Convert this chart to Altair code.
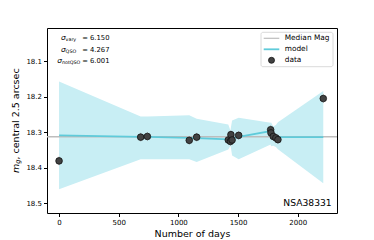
import altair as alt
import pandas as pd

# ---- data ----
days = [0, 684, 740, 1091, 1153, 1418, 1436, 1440, 1450, 1505, 1773, 1776, 1795, 1817, 1834, 2214]
mags = [18.381, 18.314, 18.312, 18.323, 18.314, 18.322, 18.326, 18.307, 18.322, 18.309,
        18.293, 18.302, 18.312, 18.316, 18.321, 18.205]
mag_err = [0.012] * len(days)

model_mag = [18.309, 18.313, 18.313, 18.316, 18.317, 18.320, 18.319, 18.317, 18.317, 18.313,
             18.297, 18.300, 18.308, 18.312, 18.314, 18.314]
band_upper = [18.157, 18.256, 18.256, 18.252, 18.262, 18.278, 18.295, 18.287, 18.267, 18.259,
              18.273, 18.272, 18.284, 18.280, 18.272, 18.184]
band_lower = [18.461, 18.376, 18.376, 18.376, 18.384, 18.349, 18.338, 18.344, 18.366, 18.376,
              18.335, 18.340, 18.338, 18.342, 18.348, 18.444]

median_mag = 18.313
x_ticks = [0, 500, 1000, 1500, 2000]
y_ticks = [18.1, 18.2, 18.3, 18.4, 18.5]
x_domain = [-101, 2329]
y_domain = [18.006, 18.528]

sigma_names = ["vary", "QSO", "notQSO"]
sigma_values = ["6.150", "4.267", "6.001"]
legend_labels = ["Median Mag", "model", "data"]
object_name = "NSA38331"

FONT = "DejaVu Sans"
BAND = "#c8eef4"
MODEL = "#5fcbda"
MEDIAN = "#bdbdbd"

df = pd.DataFrame({"day": days, "mag": mags, "err": mag_err, "model": model_mag,
                   "up": band_upper, "lo": band_lower})
df["mlo"] = df["mag"] - df["err"]
df["mhi"] = df["mag"] + df["err"]

xs = alt.Scale(domain=x_domain, nice=False, zero=False)
ys = alt.Scale(domain=y_domain, nice=False, zero=False, reverse=True)

xax = alt.Axis(values=x_ticks, title="Number of days", grid=False, labelFontSize=7,
               titleFontSize=9.5, titleFontWeight="normal", titlePadding=3,
               tickSize=3.5, labelPadding=2, format="d")
yax = alt.Axis(values=y_ticks, title=None, grid=False, labelFontSize=7, tickSize=3.5,
               labelPadding=2, format=".1f")

base = alt.Chart(df)

band = base.mark_area(color=BAND, opacity=1).encode(
    x=alt.X("day:Q", scale=xs, axis=xax),
    y=alt.Y("up:Q", scale=ys, axis=yax),
    y2="lo:Q",
)

median = alt.Chart(pd.DataFrame({"m": [median_mag]})).mark_rule(
    color=MEDIAN, strokeWidth=1.4).encode(y=alt.Y("m:Q", scale=ys))

model = base.mark_line(color=MODEL, strokeWidth=1.8).encode(
    x=alt.X("day:Q", scale=xs), y=alt.Y("model:Q", scale=ys))

errs = base.mark_rule(color="#a0a0a0", strokeWidth=0.8).encode(
    x=alt.X("day:Q", scale=xs), y=alt.Y("mlo:Q", scale=ys), y2="mhi:Q")

pts = base.mark_point(filled=True, size=44, color="#424242", stroke="#111111",
                      strokeWidth=0.8, opacity=1).encode(
    x=alt.X("day:Q", scale=xs), y=alt.Y("mag:Q", scale=ys))

layers = [band, median, model, errs, pts]

# sigma annotations
sig_rows = [10.3, 22.0, 32.7]
sig_x = [14.0, 14.0, 10.3]
for name, val, ry, sx in zip(sigma_names, sigma_values, sig_rows, sig_x):
    layers.append(alt.Chart(pd.DataFrame({"t": ["σ"]})).mark_text(
        font=FONT, fontSize=7.5, fontStyle="italic", align="left", baseline="middle").encode(
        text="t:N", x=alt.value(sx), y=alt.value(ry)))
    layers.append(alt.Chart(pd.DataFrame({"t": [name]})).mark_text(
        font=FONT, fontSize=4.8, align="left", baseline="middle").encode(
        text="t:N", x=alt.value(sx + 4.6), y=alt.value(ry + 2.0)))
    layers.append(alt.Chart(pd.DataFrame({"t": ["= " + val]})).mark_text(
        font=FONT, fontSize=6.8, align="right", baseline="middle").encode(
        text="t:N", x=alt.value(62.5), y=alt.value(ry)))

# object name
layers.append(alt.Chart(pd.DataFrame({"t": [object_name]})).mark_text(
    font=FONT, fontSize=9.2, align="right", baseline="middle").encode(
    text="t:N", x=alt.value(284.7), y=alt.value(175)))

# y-axis title with subscript
layers.append(alt.Chart(pd.DataFrame({"t": ["m"]})).mark_text(
    font=FONT, fontSize=9.5, fontStyle="italic", align="left", baseline="middle", angle=270).encode(
    text="t:N", x=alt.value(-31.5), y=alt.value(145)))
layers.append(alt.Chart(pd.DataFrame({"t": ["g"]})).mark_text(
    font=FONT, fontSize=6.7, fontStyle="italic", align="left", baseline="middle", angle=270).encode(
    text="t:N", x=alt.value(-29.0), y=alt.value(135.8)))
layers.append(alt.Chart(pd.DataFrame({"t": [", central 2.5 arcsec"]})).mark_text(
    font=FONT, fontSize=9.5, align="left", baseline="middle", angle=270).encode(
    text="t:N", x=alt.value(-31.5), y=alt.value(131.5)))

# legend box
layers.append(alt.Chart(pd.DataFrame({"a": [0]})).mark_rect(
    fill="white", fillOpacity=0.8, stroke="#d0d0d0", strokeWidth=0.8, cornerRadius=2).encode(
    x=alt.value(214), x2=alt.value(286), y=alt.value(4.3), y2=alt.value(38.7)))
leg_rows = [10.3, 21.3, 32.3]
layers.append(alt.Chart(pd.DataFrame({"a": [0]})).mark_rule(color=MEDIAN, strokeWidth=1.2).encode(
    x=alt.value(216.7), x2=alt.value(232.3), y=alt.value(leg_rows[0])))
layers.append(alt.Chart(pd.DataFrame({"a": [0]})).mark_rule(color=MODEL, strokeWidth=1.8).encode(
    x=alt.value(216.7), x2=alt.value(232.3), y=alt.value(leg_rows[1])))
layers.append(alt.Chart(pd.DataFrame({"a": [0]})).mark_point(
    filled=True, size=36, color="#424242", stroke="#111111", strokeWidth=0.8, opacity=1).encode(
    x=alt.value(224.5), y=alt.value(leg_rows[2])))
for lab, ry in zip(legend_labels, leg_rows):
    layers.append(alt.Chart(pd.DataFrame({"t": [lab]})).mark_text(
        font=FONT, fontSize=7.4, align="left", baseline="middle").encode(
        text="t:N", x=alt.value(237.7), y=alt.value(ry)))

chart = alt.layer(*layers).properties(
    width=290, height=185,
    autosize=alt.AutoSizeParams(type="none"),
    padding={"left": 39, "top": 20, "right": 29, "bottom": 32},
).configure(font=FONT).configure_view(
    stroke="black", strokeWidth=1
).configure_axis(
    labelFont=FONT, titleFont=FONT, labelColor="black", titleColor="black",
    tickColor="black", domain=False
)

chart.save("out.html", embed_options={"renderer": "svg", "actions": False})
